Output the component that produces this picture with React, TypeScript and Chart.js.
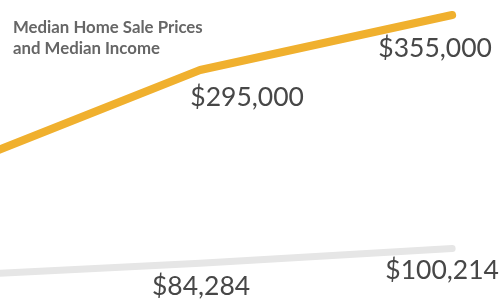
import React, { useEffect, useRef } from "react";
import { Chart, registerables } from "chart.js";

Chart.register(...registerables);

const categories = ["Start", "Middle", "Latest"];
const homePrices = [185900, 295000, 355000];
const medianIncome = [70250, 84284, 100214];
const homeLabels = ["", "$295,000", "$355,000"];
const incomeLabels = ["", "$84,284", "$100,214"];
const titleLines = ["Median Home Sale Prices", "and Median Income"];

// label offsets (styling) relative to each point
const homeOffsets = [[0, 0], [47, 27], [-17, 33]];
const incomeOffsets = [[0, 0], [1, 23], [-10, 22]];

const labelPlugin = {
  id: "pointLabels",
  afterDatasetsDraw(chart: any) {
    const ctx = chart.ctx;
    ctx.save();
    ctx.font = "26.5px Lato";
    ctx.fillStyle = "#474747";
    ctx.textAlign = "center";
    ctx.textBaseline = "middle";
    const sets = [
      { labels: homeLabels, offs: homeOffsets },
      { labels: incomeLabels, offs: incomeOffsets },
    ];
    sets.forEach((s, di) => {
      const meta = chart.getDatasetMeta(di);
      meta.data.forEach((pt: any, i: number) => {
        if (!s.labels[i]) return;
        ctx.fillText(s.labels[i], pt.x + s.offs[i][0], pt.y + s.offs[i][1]);
      });
    });
    ctx.font = "bold 16.8px Lato";
    ctx.fillStyle = "#666666";
    ctx.textAlign = "left";
    ctx.textBaseline = "top";
    titleLines.forEach((t, i) => ctx.fillText(t, 13, 19 + i * 21));
    ctx.restore();
  },
};

export default function App() {
  const ref = useRef<HTMLCanvasElement>(null);
  useEffect(() => {
    document.body.style.margin = "0";
    const chart = new Chart(ref.current as HTMLCanvasElement, {
      type: "line",
      data: {
        datasets: [
          {
            label: "Median Home Sale Price",
            data: homePrices.map((v, i) => ({ x: i, y: v })),
            borderColor: "#F0B02E",
            borderWidth: 8,
            borderCapStyle: "round",
            borderJoinStyle: "round",
            pointRadius: 0,
            tension: 0,
          },
          {
            label: "Median Income",
            data: medianIncome.map((v, i) => ({ x: i, y: v })),
            borderColor: "#E6E6E6",
            borderWidth: 7,
            borderCapStyle: "round",
            borderJoinStyle: "round",
            pointRadius: 0,
            tension: 0,
          },
        ],
      },
      options: {
        animation: false,
        responsive: false,
        layout: { padding: 0 },
        plugins: { legend: { display: false }, tooltip: { enabled: false } },
        scales: {
          x: { type: "linear", min: 0.206, max: 2.19, display: false },
          y: { min: 44065, max: 371365, display: false },
        },
      },
      plugins: [labelPlugin],
    } as any);
    return () => chart.destroy();
  }, []);
  return (
    <div style={{ width: 500, height: 300 }}>
      <canvas ref={ref} width={500} height={300} data-categories={categories.join(",")} />
    </div>
  );
}
